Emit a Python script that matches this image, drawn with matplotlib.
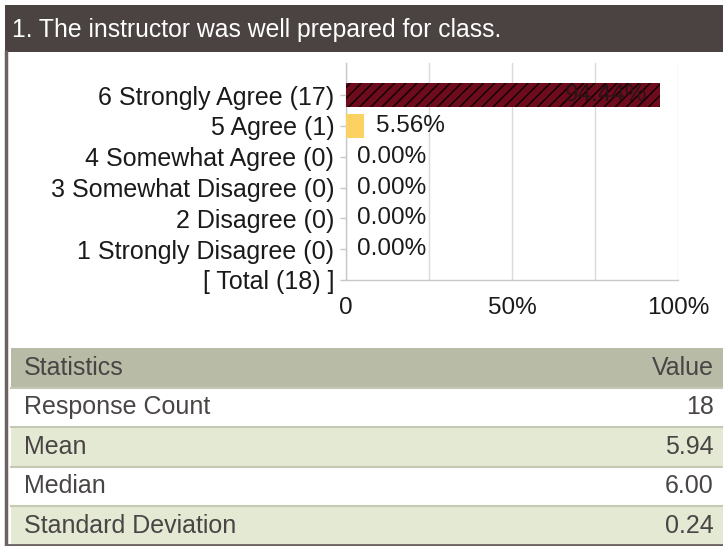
"""
Course evaluation item: bar chart of response shares plus a small statistics table.
"""
import matplotlib

matplotlib.use("Agg")
import matplotlib.pyplot as plt
from matplotlib.patches import Rectangle
from matplotlib.lines import Line2D

plt.rcParams["font.family"] = ["Liberation Sans", "DejaVu Sans"]
plt.rcParams["hatch.linewidth"] = 1.1

# ---------------------------------------------------------------------------
# Data
# ---------------------------------------------------------------------------
question = "1. The instructor was well prepared for class."
categories = [
    "6 Strongly Agree (17)",
    "5 Agree (1)",
    "4 Somewhat Agree (0)",
    "3 Somewhat Disagree (0)",
    "2 Disagree (0)",
    "1 Strongly Disagree (0)",
    "[ Total (18) ]",
]
percents = [94.44, 5.56, 0.00, 0.00, 0.00, 0.00]
x_ticks = [0, 25, 50, 75, 100]
x_ticklabels = ["0", "", "50%", "", "100%"]

stat_header = ("Statistics", "Value")
stat_names = ["Response Count", "Mean", "Median", "Standard Deviation"]
stat_values = ["18", "5.94", "6.00", "0.24"]

# ---------------------------------------------------------------------------
# Figure in pixel units (723 x 546)
# ---------------------------------------------------------------------------
W, H = 723, 546
fig = plt.figure(figsize=(W / 100, H / 100), dpi=100)


def fx(x):
    return x / W


def fy(y):
    return 1 - y / H


def rect(x0, y0, x1, y1, color):
    fig.patches.append(Rectangle((fx(x0), fy(y1)), fx(x1) - fx(x0), fy(y0) - fy(y1),
                                 transform=fig.transFigure, color=color, lw=0, zorder=0))


def hline(x0, x1, y, color, lw):
    fig.lines.append(Line2D([fx(x0), fx(x1)], [fy(y), fy(y)], transform=fig.transFigure,
                            color=color, lw=lw, zorder=2))


# header band
rect(5, 5, W, 52, "#4b4341")
fig.text(fx(12), fy(30), question, color="white", fontsize=17.8, va="center", ha="left")

# outer frame: left and bottom edges
fig.lines.append(Line2D([fx(6), fx(6)], [fy(52), fy(545)], transform=fig.transFigure,
                        color="#6a6361", lw=2.5))
hline(6, W, 544.5, "#6a6361", 2.0)

# ---------------------------------------------------------------------------
# Bar chart
# ---------------------------------------------------------------------------
ax = fig.add_axes([fx(346), fy(280), fx(678) - fx(346), fy(63) - fy(280)])
positions = list(range(len(categories)))
bar_colors = ["#6e0c1d", "#fbd262", "#fbd262", "#fbd262", "#fbd262", "#fbd262"]
bars = ax.barh(positions[:len(percents)], percents, height=0.78, color=bar_colors,
               edgecolor="#140204", linewidth=0, zorder=3)
bars[0].set_hatch("///")

for pos, p in zip(positions, percents):
    label = f"{p:.2f}%"
    if p > 50:
        ax.annotate(label, (p, pos), xytext=(-9, 0), textcoords="offset points",
                    ha="right", va="center", fontsize=17.5, color="#2a1216", zorder=4)
    else:
        ax.annotate(label, (p, pos), xytext=(8, 0), textcoords="offset points",
                    ha="left", va="center", fontsize=17.5, color="#1a1a1a", zorder=4)

ax.set_xlim(0, 100)
ax.set_ylim(6, -1.04)
ax.set_yticks(positions)
ax.set_yticklabels(categories, fontsize=18, color="#1a1a1a")
ax.set_xticks(x_ticks)
ax.set_xticklabels(x_ticklabels, fontsize=17.5, color="#1a1a1a")
ax.tick_params(axis="y", length=4.5, width=1, color="#c8c8c8", pad=4)
ax.tick_params(axis="x", length=0, pad=12)
ax.grid(axis="x", color="#dadada", lw=1, zorder=0)
for side in ("top", "right"):
    ax.spines[side].set_visible(False)
for side in ("left", "bottom"):
    ax.spines[side].set_color("#c8c8c8")
    ax.spines[side].set_linewidth(1)

# ---------------------------------------------------------------------------
# Statistics table
# ---------------------------------------------------------------------------
row_edges = [348, 387.5, 427, 466.5, 506, 545.5]
row_colors = ["#b8bba6", "#ffffff", "#e4e9d3", "#ffffff", "#e4e9d3"]
text_color = "#4a4545"
rows = [stat_header] + list(zip(stat_names, stat_values))
for i, (name, value) in enumerate(rows):
    top, bottom = row_edges[i], row_edges[i + 1]
    rect(11, top, W, bottom, row_colors[i])
    yc = fy((top + bottom) / 2)
    fig.text(fx(24), yc, name, fontsize=18, color=text_color, ha="left", va="center")
    fig.text(fx(714), yc, value, fontsize=18, color=text_color, ha="right", va="center")
    if i > 0:
        hline(11, W, top, "#c5c9b4", 1.5)

fig.savefig("out.png", dpi=100)
